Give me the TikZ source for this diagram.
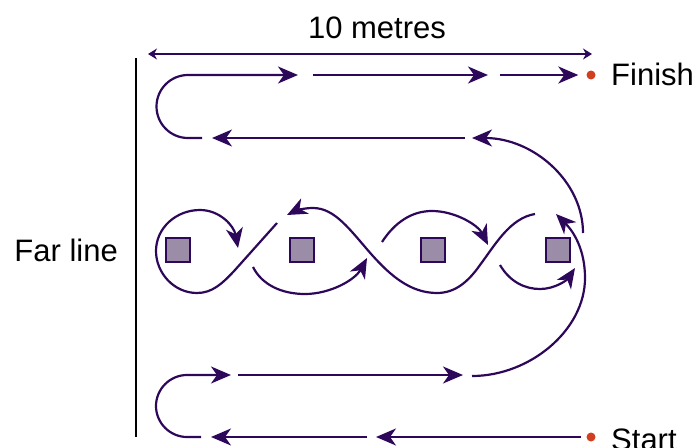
\documentclass[tikz,border=0pt]{standalone}
\usepackage{fontspec}
\setmainfont{Liberation Sans}
\usetikzlibrary{arrows.meta}
\definecolor{routecol}{RGB}{45,8,90}
\definecolor{conecol}{RGB}{155,140,168}
\definecolor{dotcol}{RGB}{208,64,32}
\tikzset{
  route/.style={draw=routecol, line width=2.2pt, -{Stealth[length=20pt,width=17pt,inset=6pt]}},
  dimline/.style={draw=routecol, line width=1.5pt, {Stealth[length=9pt,width=11pt,inset=3pt]}-{Stealth[length=9pt,width=11pt,inset=3pt]}},
  cone/.style={draw=routecol, fill=conecol, line width=2pt, minimum size=24pt, inner sep=0pt},
  spot/.style={circle, fill=dotcol, minimum size=9pt, inner sep=0pt},
  sign/.style={inner sep=0pt, font=\fontsize{31}{37}\selectfont}
}
\begin{document}
\begin{tikzpicture}[x=1pt,y=-1pt]
  \useasboundingbox (0,0) rectangle (698,447);
  % texts
  \node[sign] (width) at (377,28) {10 metres};
  \node[sign, anchor=east] (far) at (118,250) {Far line};
  \node[sign, anchor=west] (fintext) at (611,74) {Finish};
  \node[sign, anchor=west] (starttext) at (611,440) {Start};
  \draw[dimline] (148,54) -- (592,54);
  \draw[line width=1.3pt] (136,58) -- (136,437);
  % cones
  \node[cone] (c1) at (178,250) {};
  \node[cone] (c2) at (302,250) {};
  \node[cone] (c3) at (433,250) {};
  \node[cone] (c4) at (558,250) {};
  \node[spot] (start) at (591,437) {};
  \node[spot] (finish) at (591,75) {};
  % bottom row
  \draw[route] ([xshift=-5pt]start.west) -- (376,437);
  \draw[route] (367,437) -- (211,437);
  \draw[route] (201,437) -- (187,437) .. controls (170,437) and (156,423) .. (156,406)
    .. controls (156,389) and (170,375) .. (187,375) -- (231,375);
  \draw[route] (238,375) -- (463,375);
  \draw[route] (472,376) .. controls (530,376) and (585,330) .. (585,278)
    .. controls (585,250) and (574,232) .. (556,214);
  % weaving round the cones
  \draw[route] (535,214) .. controls (510,218) and (495,245) .. (480,265)
    .. controls (468,282) and (455,293) .. (437,293)
    .. controls (410,293) and (390,275) .. (372,255)
    .. controls (350,230) and (335,208) .. (313,208)
    .. controls (303,208) and (295,211) .. (287,215);
  \draw[route] (277,223) -- (235,270) .. controls (222,284) and (212,293) .. (197,293)
    .. controls (174,293) and (156,273) .. (156,251)
    .. controls (156,228) and (176,210) .. (200,210)
    .. controls (220,210) and (234,226) .. (238,248);
  \draw[route] (253,267) .. controls (262,285) and (282,294) .. (305,294)
    .. controls (330,294) and (355,280) .. (367,258);
  \draw[route] (382,242) .. controls (395,222) and (412,211) .. (432,211)
    .. controls (455,211) and (478,225) .. (488,245);
  \draw[route] (500,265) .. controls (510,282) and (525,289) .. (540,289)
    .. controls (555,289) and (567,280) .. (575,268);
  % top rows
  \draw[route] (583,233) .. controls (583,181) and (533,138) .. (472,138);
  \draw[route] (465,138) -- (212,138);
  \draw[route] (202,138) -- (188,138) .. controls (170.6,138) and (156.5,123.9) .. (156.5,106.5)
    .. controls (156.5,89.1) and (170.6,75) .. (188,75) -- (298,75);
  \draw[route] (313,75) -- (488,75);
  \draw[route] (500,75) -- ([xshift=-8pt]finish.west);
\end{tikzpicture}
\end{document}
